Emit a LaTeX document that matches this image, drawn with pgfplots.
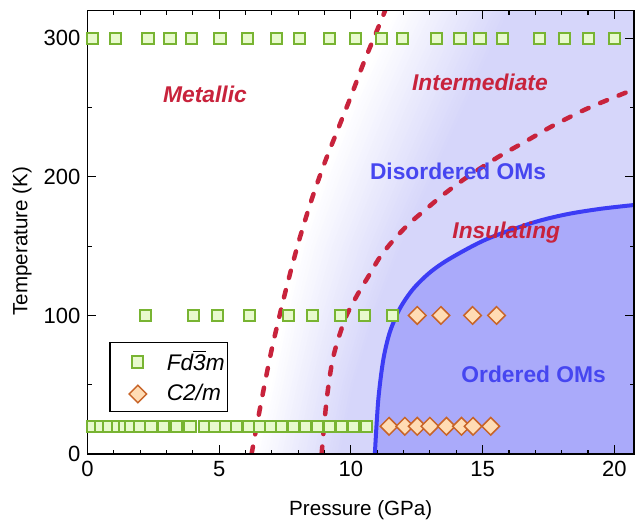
\documentclass[border=0pt]{standalone}
\usepackage{fontspec}
\setmainfont{Liberation Sans}
\usepackage{pgfplots}
\pgfplotsset{compat=1.18}
\usepackage{pgfplotstable}

\definecolor{lav}{RGB}{214,214,250}
\definecolor{bfill}{RGB}{170,170,250}
\definecolor{bline}{RGB}{60,60,245}
\definecolor{btext}{RGB}{70,70,240}
\definecolor{rdash}{RGB}{200,35,60}
\definecolor{gedge}{RGB}{120,180,50}
\definecolor{gfill}{RGB}{232,250,205}
\definecolor{dedge}{RGB}{200,100,40}
\definecolor{dfill}{RGB}{255,220,180}

% phase boundaries
\pgfplotstableread{
P T
6.23 0
6.6 38
7.0 76
7.5 116
8.0 152
8.5 183
9.0 210
9.5 234
10.0 258
10.5 283
11.0 306
11.3 320
}\lineone

\pgfplotstableread{
P T
8.89 0
9.08 39
9.33 70
9.77 97
10.22 114
10.66 128
11.10 142
11.60 154
12.20 166
12.87 177
13.50 187
14.20 197
14.90 206
15.65 215
16.67 226
17.68 237
18.94 249
20.33 260
20.90 264
}\linetwo

\pgfplotstableread{
P T
10.91 0
11.04 39
11.23 68
11.48 88
11.86 105
12.36 119
13.00 131
13.76 141
15.15 155
16.92 167
18.19 173
19.50 177
20.90 180
}\blueline

% blue region (blue line closed to the right)
\pgfplotstableread{
P T
10.91 0
11.04 39
11.23 68
11.48 88
11.86 105
12.36 119
13.00 131
13.76 141
15.15 155
16.92 167
18.19 173
19.50 177
20.90 180
22 180
22 0
}\bluearea

% start and end of the white-to-lavender background fade
\pgfplotstableread{
T xa xb
0 6.3 9.6
50 6.9 10.1
100 7.4 10.9
150 8.0 11.9
200 8.9 13.1
250 9.9 14.3
300 11.1 15.5
320 11.6 16.0
320 22 22
0 22 22
}\fade

% Fd-3m points
\pgfplotstableread{
P T
0.2 300
1.07 300
2.3 300
3.13 300
3.95 300
5.03 300
6.08 300
7.18 300
8.06 300
9.2 300
10.19 300
11.17 300
11.96 300
13.25 300
14.14 300
14.9 300
15.76 300
17.15 300
18.12 300
19.03 300
20.02 300
2.21 100
4.02 100
4.94 100
6.14 100
7.62 100
8.53 100
9.62 100
10.53 100
11.57 100
0.18 20
0.5 20
0.82 20
1.13 20
1.42 20
1.65 20
1.99 20
2.41 20
2.9 20
3.39 20
3.89 20
4.46 20
4.84 20
5.26 20
5.67 20
6.11 20
6.53 20
6.94 20
7.36 20
7.82 20
8.28 20
8.72 20
9.18 20
9.63 20
10.11 20
10.59 20
}\cubic

% C2/m points
\pgfplotstableread{
P T
12.52 100
13.42 100
14.62 100
15.53 100
11.45 20
12.05 20
12.52 20
13.0 20
13.63 20
14.2 20
14.64 20
15.31 20
}\mono

\begin{document}
\begin{tikzpicture}
\useasboundingbox (-43.75pt,-36pt) rectangle (273.75pt,227pt);
\begin{axis}[
    width=273.25pt, height=221.7pt, scale only axis,
    xmin=0, xmax=20.75, ymin=0, ymax=320,
    xtick={0,5,10,15,20}, minor x tick num=4,
    ytick={0,100,200,300}, minor y tick num=1,
    tick align=inside,
    major tick length=4.3pt, minor tick length=2.2pt,
    axis line style={line width=0.8pt},
    tick style={line width=0.6pt, black},
    ticklabel style={font=\fontsize{11}{13}\selectfont},
    /pgf/number format/assume math mode=true,
    xlabel={Pressure (GPa)}, ylabel={Temperature (K)},
    label style={font=\fontsize{10.3}{12}\selectfont},
    xlabel style={at={(axis description cs:0.5,-0.1263)}, anchor=center},
    ylabel style={at={(axis description cs:-0.1199,0.48)}, anchor=center},
    axis on top,
    legend style={at={(axis cs:0.82,81)}, anchor=north west, draw=black,
        line width=0.75pt, font=\fontsize{11.3}{13}\selectfont\itshape,
        inner xsep=0pt, inner ysep=2.5pt, row sep=2.5pt,
        nodes={inner sep=1.5pt},
        /tikz/every odd column/.append style={column sep=7pt}},
    legend cell align=left,
    legend image code/.code={
        \path[draw=none, fill=none] (-14pt,-5pt) rectangle (6pt,5pt);
        \draw[#1] plot coordinates {(0pt,0pt)};},
]
% background fade, drawn as bands between the two fade curves
\pgfplotsinvokeforeach{1,...,30}{
  \addplot[draw=none, fill=lav!\the\numexpr #1*100/30\relax!white, forget plot]
    table[x expr=\thisrow{xa}+(#1/30)*(\thisrow{xb}-\thisrow{xa}), y=T] {\fade};
}
\addplot[draw=none, fill=bfill, forget plot] table[x=P, y=T] {\bluearea};

\addplot[rdash, line width=2.25pt, line cap=round, dash pattern=on 3.75pt off 6.25pt,
    smooth, forget plot] table[x=P, y=T] {\lineone};
\addplot[rdash, line width=2.25pt, line cap=round, dash pattern=on 3.75pt off 6.25pt,
    smooth, forget plot] table[x=P, y=T] {\linetwo};
\addplot[bline, line width=2pt, smooth, forget plot] table[x=P, y=T] {\blueline};

\addplot[only marks, mark=square*, mark size=2.8pt, draw=gedge, fill=gfill,
    line width=1pt] table[x=P, y=T] {\cubic};
\addlegendentry{Fd$\overline{\textit{3}}$m}
\addplot[only marks, mark=square*, mark size=3.1pt, mark options={rotate=45},
    draw=dedge, fill=dfill, line width=0.75pt] table[x=P, y=T] {\mono};
\addlegendentry{C2/m}

\node[rdash, font=\fontsize{11.4}{13}\selectfont\bfseries\itshape] at (axis cs:4.46,259.5) {Metallic};
\node[rdash, font=\fontsize{11.4}{13}\selectfont\bfseries\itshape] at (axis cs:14.9,268.4) {Intermediate};
\node[btext, font=\fontsize{11.4}{13}\selectfont\bfseries] at (axis cs:14.07,204) {Disordered OMs};
\node[rdash, font=\fontsize{11.4}{13}\selectfont\bfseries\itshape] at (axis cs:15.9,160) {Insulating};
\node[btext, font=\fontsize{11.4}{13}\selectfont\bfseries] at (axis cs:16.94,57.8) {Ordered OMs};
\end{axis}
\end{tikzpicture}
\end{document}
